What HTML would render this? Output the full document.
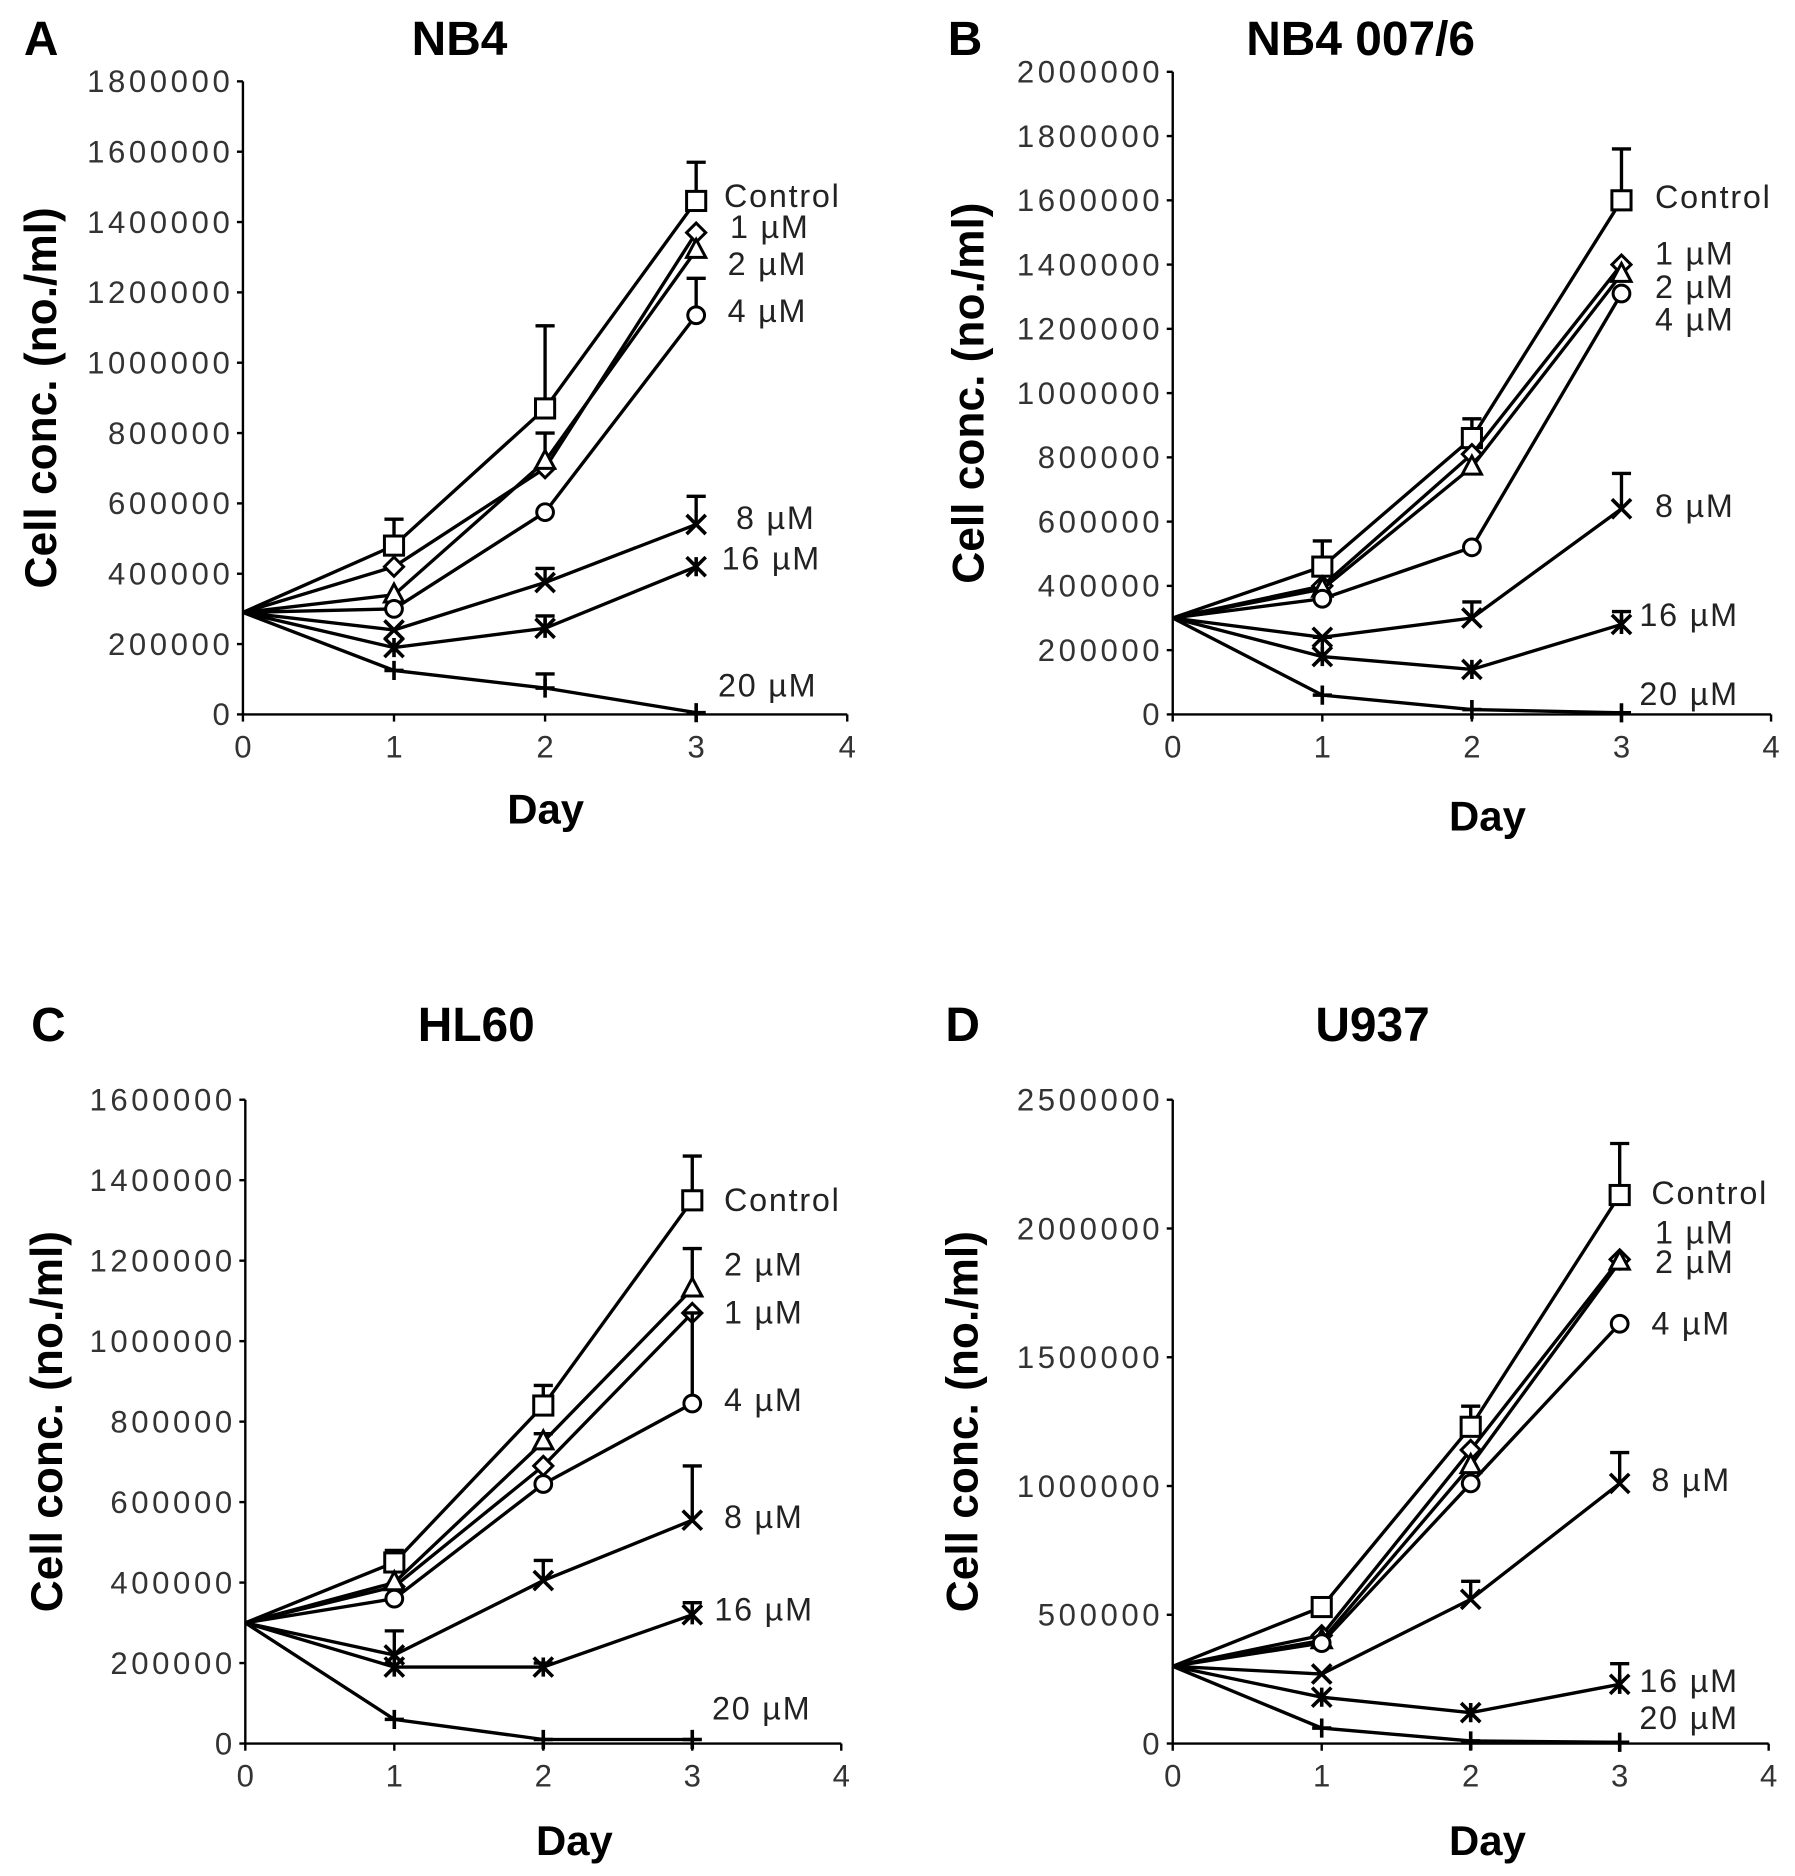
<!DOCTYPE html>
<html><head><meta charset="utf-8"><style>
html,body{margin:0;padding:0;background:#fff}
svg{display:block}
text{font-family:"Liberation Sans",Arial,sans-serif}
</style></head><body>
<svg id="fig" width="1795" height="1876" viewBox="0 0 1500 1567.7" xmlns="http://www.w3.org/2000/svg">
<rect width="1500" height="1568" fill="#fff"/>
</svg>
<script>
const days = [0, 1, 2, 3];
const seriesNames = ["Control", "1 µM", "2 µM", "4 µM", "8 µM", "16 µM", "20 µM"];
const markers = ["square", "diamond", "triangle", "circle", "x", "asterisk", "plus"];
// Panel A NB4
const aValues = [
 [290000, 480000, 870000, 1460000],
 [290000, 420000, 700000, 1370000],
 [290000, 340000, 720000, 1320000],
 [290000, 300000, 575000, 1135000],
 [290000, 240000, 375000, 540000],
 [290000, 190000, 245000, 420000],
 [290000, 125000, 75000, 5000]];
const aErrors = [[0,75000,235000,110000],[0,0,0,0],[0,0,80000,0],[0,0,0,105000],[0,0,40000,80000],[0,0,35000,0],[0,0,40000,0]];
const aTicks = [0,200000,400000,600000,800000,1000000,1200000,1400000,1600000,1800000];
// Panel B NB4 007/6
const bValues = [
 [300000, 460000, 860000, 1600000],
 [300000, 400000, 810000, 1400000],
 [300000, 390000, 770000, 1370000],
 [300000, 360000, 520000, 1310000],
 [300000, 240000, 300000, 640000],
 [300000, 180000, 140000, 280000],
 [300000, 60000, 15000, 5000]];
const bErrors = [[0,80000,60000,160000],[0,0,0,0],[0,0,0,0],[0,0,0,0],[0,0,50000,110000],[0,60000,0,40000],[0,0,0,0]];
const bTicks = [0,200000,400000,600000,800000,1000000,1200000,1400000,1600000,1800000,2000000];
// Panel C HL60
const cValues = [
 [300000, 450000, 840000, 1350000],
 [300000, 390000, 690000, 1070000],
 [300000, 400000, 750000, 1130000],
 [300000, 360000, 645000, 845000],
 [300000, 220000, 405000, 555000],
 [300000, 190000, 190000, 320000],
 [300000, 60000, 10000, 10000]];
const cErrors = [[0,30000,50000,110000],[0,0,0,0],[0,0,20000,100000],[0,0,0,225000],[0,60000,50000,135000],[0,0,10000,30000],[0,0,0,0]];
const cTicks = [0,200000,400000,600000,800000,1000000,1200000,1400000,1600000];
// Panel D U937
const dValues = [
 [300000, 530000, 1230000, 2130000],
 [300000, 420000, 1140000, 1880000],
 [300000, 400000, 1080000, 1870000],
 [300000, 390000, 1010000, 1630000],
 [300000, 270000, 560000, 1010000],
 [300000, 180000, 120000, 230000],
 [300000, 60000, 10000, 5000]];
const dErrors = [[0,30000,80000,200000],[0,0,0,0],[0,0,0,0],[0,0,0,0],[0,0,70000,120000],[0,0,0,80000],[0,0,0,0]];
const dTicks = [0,500000,1000000,1500000,2000000,2500000];
const xTicks = [0,1,2,3,4];

const NS = "http://www.w3.org/2000/svg";
const svg = document.getElementById("fig");
function mk(tag, attrs, parent) {
  const e = document.createElementNS(NS, tag);
  for (const k in attrs) e.setAttribute(k, attrs[k]);
  (parent || svg).appendChild(e);
  return e;
}

const panels = [
 {id:"a", letter:"A", title:"NB4", values:aValues, errors:aErrors, ticks:aTicks, x0:203, x1:708, y0:597, y1:68, letterX:20, letterY:46, titleX:384, titleY:46, ylabX:47, dayX:456, dayY:688,
  labels:[[605,173,"Control"],[610,199,"1 µM"],[608,230,"2 µM"],[608,269,"4 µM"],[615,442,"8 µM"],[603,476,"16 µM"],[600,582,"20 µM"]]},
 {id:"b", letter:"B", title:"NB4 007/6", values:bValues, errors:bErrors, ticks:bTicks, x0:980, x1:1480, y0:597, y1:60, letterX:792, letterY:46, titleX:1137, titleY:46, ylabX:822, dayX:1243, dayY:694,
  labels:[[1383,174,"Control"],[1383,221,"1 µM"],[1383,249,"2 µM"],[1383,276,"4 µM"],[1383,432,"8 µM"],[1370,523,"16 µM"],[1370,589,"20 µM"]]},
 {id:"c", letter:"C", title:"HL60", values:cValues, errors:cErrors, ticks:cTicks, x0:205, x1:703, y0:1457, y1:919, letterX:26, letterY:870, titleX:398, titleY:870, ylabX:52, dayX:480, dayY:1550,
  labels:[[605,1012,"Control"],[605,1066,"2 µM"],[605,1106,"1 µM"],[605,1179,"4 µM"],[605,1277,"8 µM"],[597,1354,"16 µM"],[595,1437,"20 µM"]]},
 {id:"d", letter:"D", title:"U937", values:dValues, errors:dErrors, ticks:dTicks, x0:980, x1:1478, y0:1457, y1:919, letterX:790, letterY:870, titleX:1147, titleY:870, ylabX:817, dayX:1243, dayY:1550,
  labels:[[1380,1006,"Control"],[1383,1039,"1 µM"],[1383,1064,"2 µM"],[1380,1115,"4 µM"],[1380,1246,"8 µM"],[1370,1414,"16 µM"],[1370,1445,"20 µM"]]}
];

function drawMarker(g, type, cx, cy) {
  const s = 8, st = {stroke:"#000","stroke-width":2.5,fill:"#fff"};
  let e;
  if (type==="square") e = mk("rect", Object.assign({x:cx-s,y:cy-s,width:2*s,height:2*s}, st), g);
  else if (type==="diamond") e = mk("polygon", Object.assign({points:`${cx},${cy-s} ${cx+s},${cy} ${cx},${cy+s} ${cx-s},${cy}`}, st), g);
  else if (type==="triangle") e = mk("polygon", Object.assign({points:`${cx},${cy-s-1} ${cx+s},${cy+s-2} ${cx-s},${cy+s-2}`}, st), g);
  else if (type==="circle") e = mk("circle", Object.assign({cx:cx,cy:cy,r:s-1}, st), g);
  else {
    let d = "";
    if (type==="x"||type==="asterisk") d += `M${cx-s},${cy-s}L${cx+s},${cy+s}M${cx-s},${cy+s}L${cx+s},${cy-s}`;
    if (type==="asterisk") d += `M${cx},${cy-s}L${cx},${cy+s}`;
    if (type==="plus") d += `M${cx-s},${cy}L${cx+s},${cy}M${cx},${cy-s}L${cx},${cy+s}`;
    e = mk("path", {d:d, stroke:"#000","stroke-width":3,fill:"none"}, g);
  }
  
  
}

panels.forEach(p => {
  const ymax = p.ticks[p.ticks.length-1];
  const xs = v => p.x0 + (v/4)*(p.x1-p.x0);
  const ys = v => p.y0 - (v/ymax)*(p.y0-p.y1);
  const g = mk("g", {});
  
  

  let t = mk("text", {x:p.letterX, y:p.letterY, "font-size":40, "font-weight":"bold"}, g);
  t.textContent = p.letter;
  
  
  t = mk("text", {x:p.titleX, y:p.titleY, "font-size":40, "font-weight":"bold", "text-anchor":"middle"}, g);
  t.textContent = p.title;
  
  

  const ax = mk("path", {d:`M${p.x0},${p.y1}V${p.y0}H${p.x1}`, stroke:"#000","stroke-width":2,fill:"none"}, g);
  
  
  p.ticks.forEach(v => {
    const y = ys(v);
    mk("line", {x1:p.x0-5,x2:p.x0,y1:y,y2:y,stroke:"#000","stroke-width":2}, g);
    const tl = mk("text", {x:p.x0-8, y:y+9, "font-size":26, "letter-spacing":3, "text-anchor":"end", fill:"#333"}, g);
    tl.textContent = String(v);
    
    
  });
  xTicks.forEach(v => {
    const x = xs(v);
    mk("line", {x1:x,x2:x,y1:p.y0,y2:p.y0+6,stroke:"#000","stroke-width":2}, g);
    const tl = mk("text", {x:x, y:p.y0+36, "font-size":26, "text-anchor":"middle", fill:"#333"}, g);
    tl.textContent = String(v);
    
    
  });
  const ymid = (p.y0+p.y1)/2;
  t = mk("text", {x:p.ylabX, y:ymid, "font-size":37, "font-weight":"bold", "text-anchor":"middle", transform:`rotate(-90 ${p.ylabX} ${ymid})`}, g);
  t.textContent = "Cell conc. (no./ml)";
  
  
  t = mk("text", {x:p.dayX, y:p.dayY, "font-size":35, "font-weight":"bold", "text-anchor":"middle"}, g);
  t.textContent = "Day";
  
  

  p.values.forEach((vals, si) => {
    const sg = mk("g", {}, g);
    
    
    const pts = vals.map((v,i) => xs(days[i]) + "," + ys(v)).join(" ");
    mk("polyline", {points:pts, stroke:"#000","stroke-width":2.8,fill:"none"}, sg);
    vals.forEach((v,i) => {
      const e = p.errors[si][i];
      if (e > 0) {
        const x = xs(days[i]), y = ys(v), ye = ys(v+e);
        const eb = mk("path", {d:`M${x},${y}V${ye}M${x-8},${ye}H${x+8}`, stroke:"#000","stroke-width":2.8,fill:"none"}, sg);
        
        
      }
    });
    vals.forEach((v,i) => { if (i>0) drawMarker(sg, markers[si], xs(days[i]), ys(v)); });
  });

  p.labels.forEach(l => {
    const tl = mk("text", {x:l[0], y:l[1], "font-size":27, "letter-spacing":1.5, fill:"#222"}, g);
    tl.textContent = l[2];
    
    
  });
});
</script>
</body></html>
